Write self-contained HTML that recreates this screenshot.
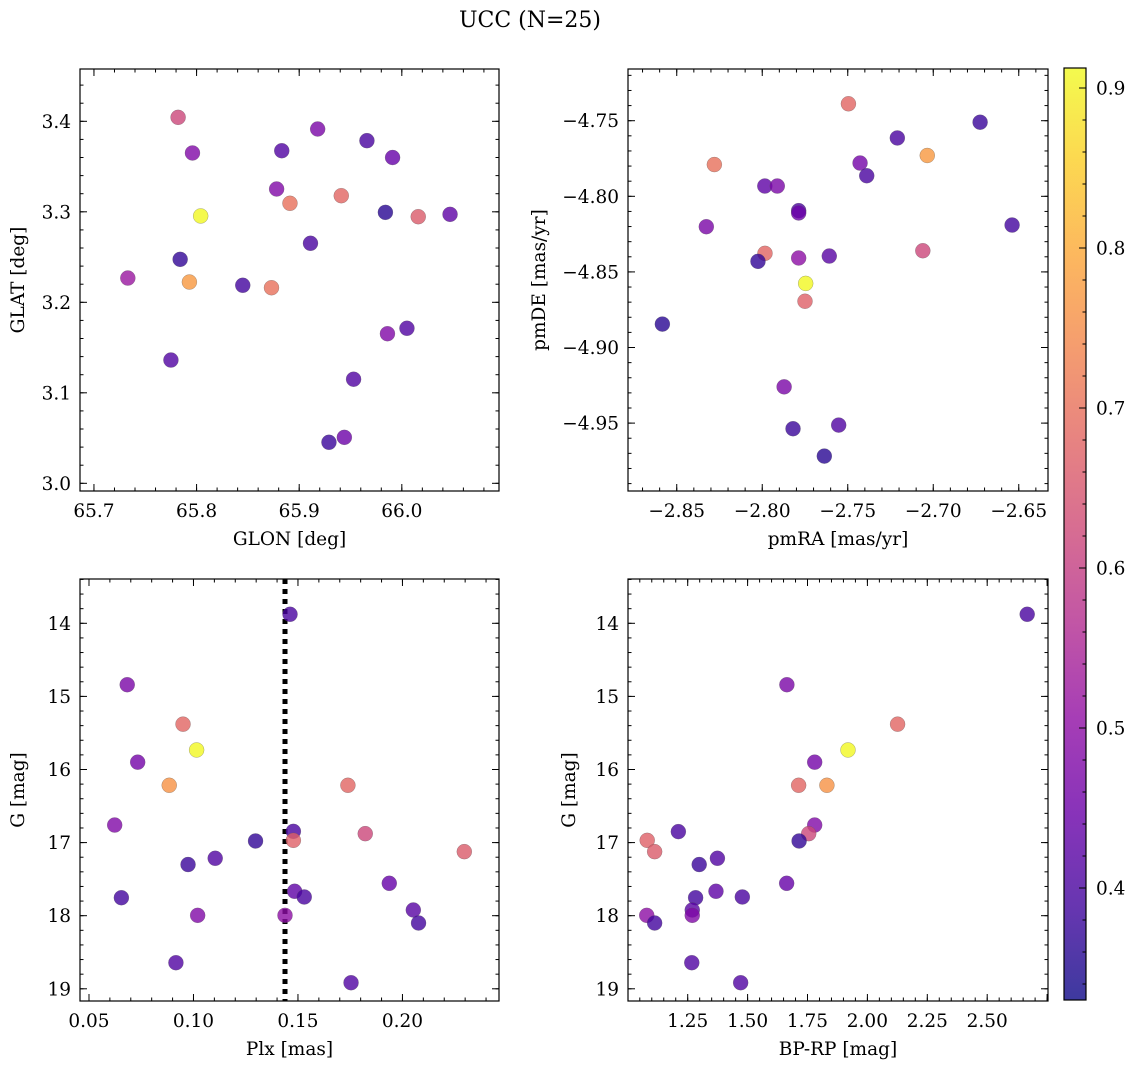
<!DOCTYPE html>
<html><head><meta charset="utf-8"><style>
html,body{margin:0;padding:0;background:#fff;}
svg{display:block;font-family:"DejaVu Serif","Liberation Serif",serif;}
</style></head><body>
<svg id="fig" width="1136" height="1068" viewBox="0 0 1136 1068" xmlns="http://www.w3.org/2000/svg">
<defs>
<linearGradient id="plasma" x1="0" y1="1" x2="0" y2="0">
<stop offset="0" stop-color="#0d0887"/><stop offset="0.1" stop-color="#41049d"/><stop offset="0.2" stop-color="#6a00a8"/><stop offset="0.3" stop-color="#8f0da4"/><stop offset="0.4" stop-color="#b12a90"/><stop offset="0.5" stop-color="#cc4778"/><stop offset="0.6" stop-color="#e16462"/><stop offset="0.7" stop-color="#f2844b"/><stop offset="0.8" stop-color="#fca636"/><stop offset="0.9" stop-color="#fcce25"/><stop offset="1" stop-color="#f0f921"/>
</linearGradient>
</defs>
<text x="530" y="27" text-anchor="middle" font-size="22">UCC (N=25)</text>
</svg>
<script>
// ---- data: panel 1 (GLON / GLAT)
const glon1 = [65.782,65.918,65.966,65.883,65.796,65.991,65.878,65.941,65.891,65.804,65.984,66.016,66.047,65.911,65.784,65.733,65.793,65.845,65.873,65.986,66.005,65.775,65.953,65.929,65.944];
const glat1 = [3.4044,3.3915,3.3786,3.3675,3.365,3.360,3.3252,3.3178,3.3094,3.2954,3.2994,3.2946,3.2972,3.2652,3.2475,3.2268,3.2224,3.2188,3.2161,3.1653,3.1713,3.1362,3.115,3.0453,3.0508];
const prob1 = [0.62,0.47,0.40,0.41,0.48,0.44,0.48,0.68,0.70,0.91,0.36,0.66,0.43,0.40,0.37,0.52,0.77,0.39,0.70,0.48,0.41,0.41,0.41,0.38,0.45];
// ---- data: panel 2 (pmRA / pmDE)
const pmra2 = [-2.7496,-2.6726,-2.721,-2.7035,-2.828,-2.7428,-2.7389,-2.7985,-2.7912,-2.7787,-2.7787,-2.8327,-2.6539,-2.7984,-2.8025,-2.7787,-2.7608,-2.7061,-2.7746,-2.775,-2.8584,-2.7872,-2.782,-2.7553,-2.7637];
const pmde2 = [-4.7388,-4.751,-4.7614,-4.773,-4.779,-4.778,-4.7864,-4.7932,-4.7932,-4.8095,-4.811,-4.8201,-4.819,-4.8377,-4.843,-4.8408,-4.8395,-4.836,-4.8576,-4.8694,-4.8845,-4.926,-4.9537,-4.9513,-4.9718];
const prob2 = [0.68,0.38,0.40,0.77,0.70,0.46,0.40,0.43,0.47,0.40,0.45,0.47,0.39,0.68,0.37,0.50,0.42,0.62,0.91,0.67,0.36,0.47,0.38,0.41,0.36];
// ---- data: panel 3 (Plx / G)
const plx3 = [0.1462,0.0683,0.095,0.1015,0.0733,0.0884,0.1739,0.0623,0.1478,0.1822,0.1297,0.1478,0.2296,0.1104,0.0974,0.1937,0.1484,0.153,0.0655,0.102,0.1438,0.2052,0.2077,0.0916,0.1754];
const g3 = [13.877,14.84,15.38,15.733,15.90,16.216,16.216,16.76,16.846,16.878,16.978,16.969,17.124,17.215,17.30,17.557,17.666,17.744,17.754,17.995,17.995,17.922,18.10,18.643,18.917];
const prob3 = [0.40,0.47,0.68,0.91,0.46,0.76,0.68,0.48,0.40,0.62,0.37,0.67,0.66,0.41,0.38,0.44,0.43,0.40,0.39,0.48,0.50,0.42,0.39,0.41,0.41];
const plxLine = [0.1438];
// ---- data: panel 4 (BP-RP / G)
const bprp4 = [2.667,1.664,2.126,1.919,1.780,1.713,1.831,1.780,1.755,1.211,1.081,1.715,1.112,1.374,1.298,1.663,1.368,1.478,1.283,1.269,1.269,1.079,1.112,1.267,1.471];
const g4 = [13.877,14.84,15.38,15.733,15.90,16.216,16.216,16.76,16.878,16.85,16.969,16.978,17.124,17.215,17.30,17.557,17.666,17.744,17.754,17.922,17.995,17.995,18.10,18.643,18.917];
const prob4 = [0.40,0.47,0.68,0.91,0.46,0.68,0.76,0.48,0.62,0.40,0.67,0.37,0.66,0.41,0.38,0.44,0.43,0.40,0.39,0.42,0.48,0.50,0.39,0.41,0.41];
// ---- tick labels
const ticks1x = [65.7,65.8,65.9,66.0];
const ticks1y = [3.0,3.1,3.2,3.3,3.4];
const ticks2x = [-2.85,-2.80,-2.75,-2.70,-2.65];
const ticks2y = [-4.95,-4.90,-4.85,-4.80,-4.75];
const ticks3x = [0.05,0.10,0.15,0.20];
const ticksG = [14,15,16,17,18,19];
const ticks4x = [1.25,1.50,1.75,2.00,2.25,2.50];
const ticksCb = [0.4,0.5,0.6,0.7,0.8,0.9];
const cbRange = [0.33,0.9125];

const NS = "http://www.w3.org/2000/svg";
const svg = document.getElementById('fig');
const FS = 18.5;
function mk(tag, attrs, parent){ const e=document.createElementNS(NS,tag); for(const k in attrs) e.setAttribute(k,attrs[k]); (parent||svg).appendChild(e); return e; }

const plasma = ["#0d0887","#41049d","#6a00a8","#8f0da4","#b12a90","#cc4778","#e16462","#f2844b","#fca636","#fcce25","#f0f921"];
function hex(h){return [parseInt(h.substr(1,2),16),parseInt(h.substr(3,2),16),parseInt(h.substr(5,2),16)];}
function cmap(v){ let t=(v-cbRange[0])/(cbRange[1]-cbRange[0]); t=Math.max(0,Math.min(1,t)); const f=t*10, i=Math.min(9,Math.floor(f)), r=f-i; const a=hex(plasma[i]), b=hex(plasma[i+1]); return 'rgb('+a.map((c,k)=>Math.round(c+(b[k]-c)*r)).join(',')+')'; }
function fmt(v,d){ const s=v.toFixed(d); return s.replace('-','\u2212'); }

function panel(cfg){
  const g = mk('g',{});
  
  
  const X = v => cfg.x0 + (v-cfg.xmin)/(cfg.xmax-cfg.xmin)*(cfg.x1-cfg.x0);
  const Y = v => cfg.y0 + (v-cfg.yt)/(cfg.yb-cfg.yt)*(cfg.y1-cfg.y0);
  const tg = mk('g',{stroke:'#000','stroke-width':1},g);
  function ticksX(step, len){ const s=Math.ceil(cfg.xmin/step-1e-6); for(let k=s; k*step<=cfg.xmax+1e-9; k++){ const px=X(k*step); mk('line',{x1:px,x2:px,y1:cfg.y1,y2:cfg.y1-len},tg); mk('line',{x1:px,x2:px,y1:cfg.y0,y2:cfg.y0+len},tg);} }
  function ticksY(step, len){ const lo=Math.min(cfg.yt,cfg.yb), hi=Math.max(cfg.yt,cfg.yb); const s=Math.ceil(lo/step-1e-6); for(let k=s; k*step<=hi+1e-9; k++){ const py=Y(k*step); mk('line',{x1:cfg.x0,x2:cfg.x0+len,y1:py,y2:py},tg); mk('line',{x1:cfg.x1,x2:cfg.x1-len,y1:py,y2:py},tg);} }
  ticksX(cfg.xminor,3.5); ticksY(cfg.yminor,3.5);
  ticksX(cfg.xmajor,7); ticksY(cfg.ymajor,7);
  cfg.xt.forEach(v=>{ const t=mk('text',{x:X(v),y:cfg.y1+26,'text-anchor':'middle','font-size':FS},g); t.textContent=fmt(v,cfg.xd);
    
     });
  cfg.yt_.forEach(v=>{ const t=mk('text',{x:cfg.x0-9,y:Y(v)+6.5,'text-anchor':'end','font-size':FS},g); t.textContent=fmt(v,cfg.yd);
    
     });
  const xl=mk('text',{x:(cfg.x0+cfg.x1)/2,y:cfg.y1+54,'text-anchor':'middle','font-size':FS},g); xl.textContent=cfg.xlabel;
  
  
  const yc=(cfg.y0+cfg.y1)/2;
  const yl=mk('text',{x:cfg.ylx,y:yc,'text-anchor':'middle','font-size':FS,transform:'rotate(-90 '+cfg.ylx+' '+yc+')'},g); yl.textContent=cfg.ylabel;
  
  
  if(cfg.vline){ cfg.vline.forEach(v=>{ const l=mk('line',{x1:X(v),x2:X(v),y1:cfg.y0,y2:cfg.y1,stroke:'#000','stroke-width':5,'stroke-dasharray':'5 5'},g);
    
     }); }
  cfg.xs.forEach((xv,i)=>{ const c=mk('circle',{cx:X(xv),cy:Y(cfg.ys[i]),r:7.5,fill:cmap(cfg.cs[i]),'fill-opacity':0.8,stroke:'#555','stroke-opacity':0.5,'stroke-width':0.5},g);
    
     });
  const fr=mk('rect',{x:cfg.x0,y:cfg.y0,width:cfg.x1-cfg.x0,height:cfg.y1-cfg.y0,fill:'none',stroke:'#000','stroke-width':1.2},g);
  
  
}

panel({name:'glon-glat-panel',x0:80,x1:499,y0:69,y1:491,xmin:65.6864,xmax:66.0947,yt:3.4578,yb:2.9915,
  xmajor:0.1,xminor:0.02,ymajor:0.1,yminor:0.02,xt:ticks1x,yt_:ticks1y,xd:1,yd:1,
  xlabel:'GLON [deg]',ylabel:'GLAT [deg]',ylx:24,xs:glon1,ys:glat1,cs:prob1});
panel({name:'pm-panel',x0:628,x1:1048,y0:69,y1:491,xmin:-2.8785,xmax:-2.6329,yt:-4.7158,yb:-4.9949,
  xmajor:0.05,xminor:0.01,ymajor:0.05,yminor:0.01,xt:ticks2x,yt_:ticks2y,xd:2,yd:2,
  xlabel:'pmRA [mas/yr]',ylabel:'pmDE [mas/yr]',ylx:545,xs:pmra2,ys:pmde2,cs:prob2});
panel({name:'plx-g-panel',x0:80,x1:499,y0:579,y1:1001,xmin:0.0457,xmax:0.2462,yt:13.394,yb:19.167,
  xmajor:0.05,xminor:0.01,ymajor:1,yminor:0.2,xt:ticks3x,yt_:ticksG,xd:2,yd:0,
  xlabel:'Plx [mas]',ylabel:'G [mag]',ylx:24,xs:plx3,ys:g3,cs:prob3,vline:plxLine});
panel({name:'cmd-panel',x0:628,x1:1048,y0:579,y1:1001,xmin:1.0008,xmax:2.7538,yt:13.394,yb:19.167,
  xmajor:0.25,xminor:0.05,ymajor:1,yminor:0.2,xt:ticks4x,yt_:ticksG,xd:2,yd:0,
  xlabel:'BP-RP [mag]',ylabel:'G [mag]',ylx:575,xs:bprp4,ys:g4,cs:prob4});

(function(){
  const x0=1064,x1=1086,y0=68,y1=1000;
  const g=mk('g',{});
  
  
  mk('rect',{x:x0,y:y0,width:x1-x0,height:y1-y0,fill:'url(#plasma)','fill-opacity':0.8},g);
  const Y=v=>y1-(v-cbRange[0])/(cbRange[1]-cbRange[0])*(y1-y0);
  for(let k=Math.ceil(cbRange[0]/0.02); k*0.02<=cbRange[1]; k++){ const py=Y(k*0.02); mk('line',{x1:x1,x2:x1-3.5,y1:py,y2:py,stroke:'#000','stroke-width':1},g); }
  ticksCb.forEach(v=>{ const py=Y(v); mk('line',{x1:x1,x2:x1-7,y1:py,y2:py,stroke:'#000','stroke-width':1},g);
    const t=mk('text',{x:x1+10,y:py+6.5,'font-size':FS},g); t.textContent=v.toFixed(1);
    
     });
  mk('rect',{x:x0,y:y0,width:x1-x0,height:y1-y0,fill:'none',stroke:'#000','stroke-width':1.2},g);
})();
</script>
</body></html>
